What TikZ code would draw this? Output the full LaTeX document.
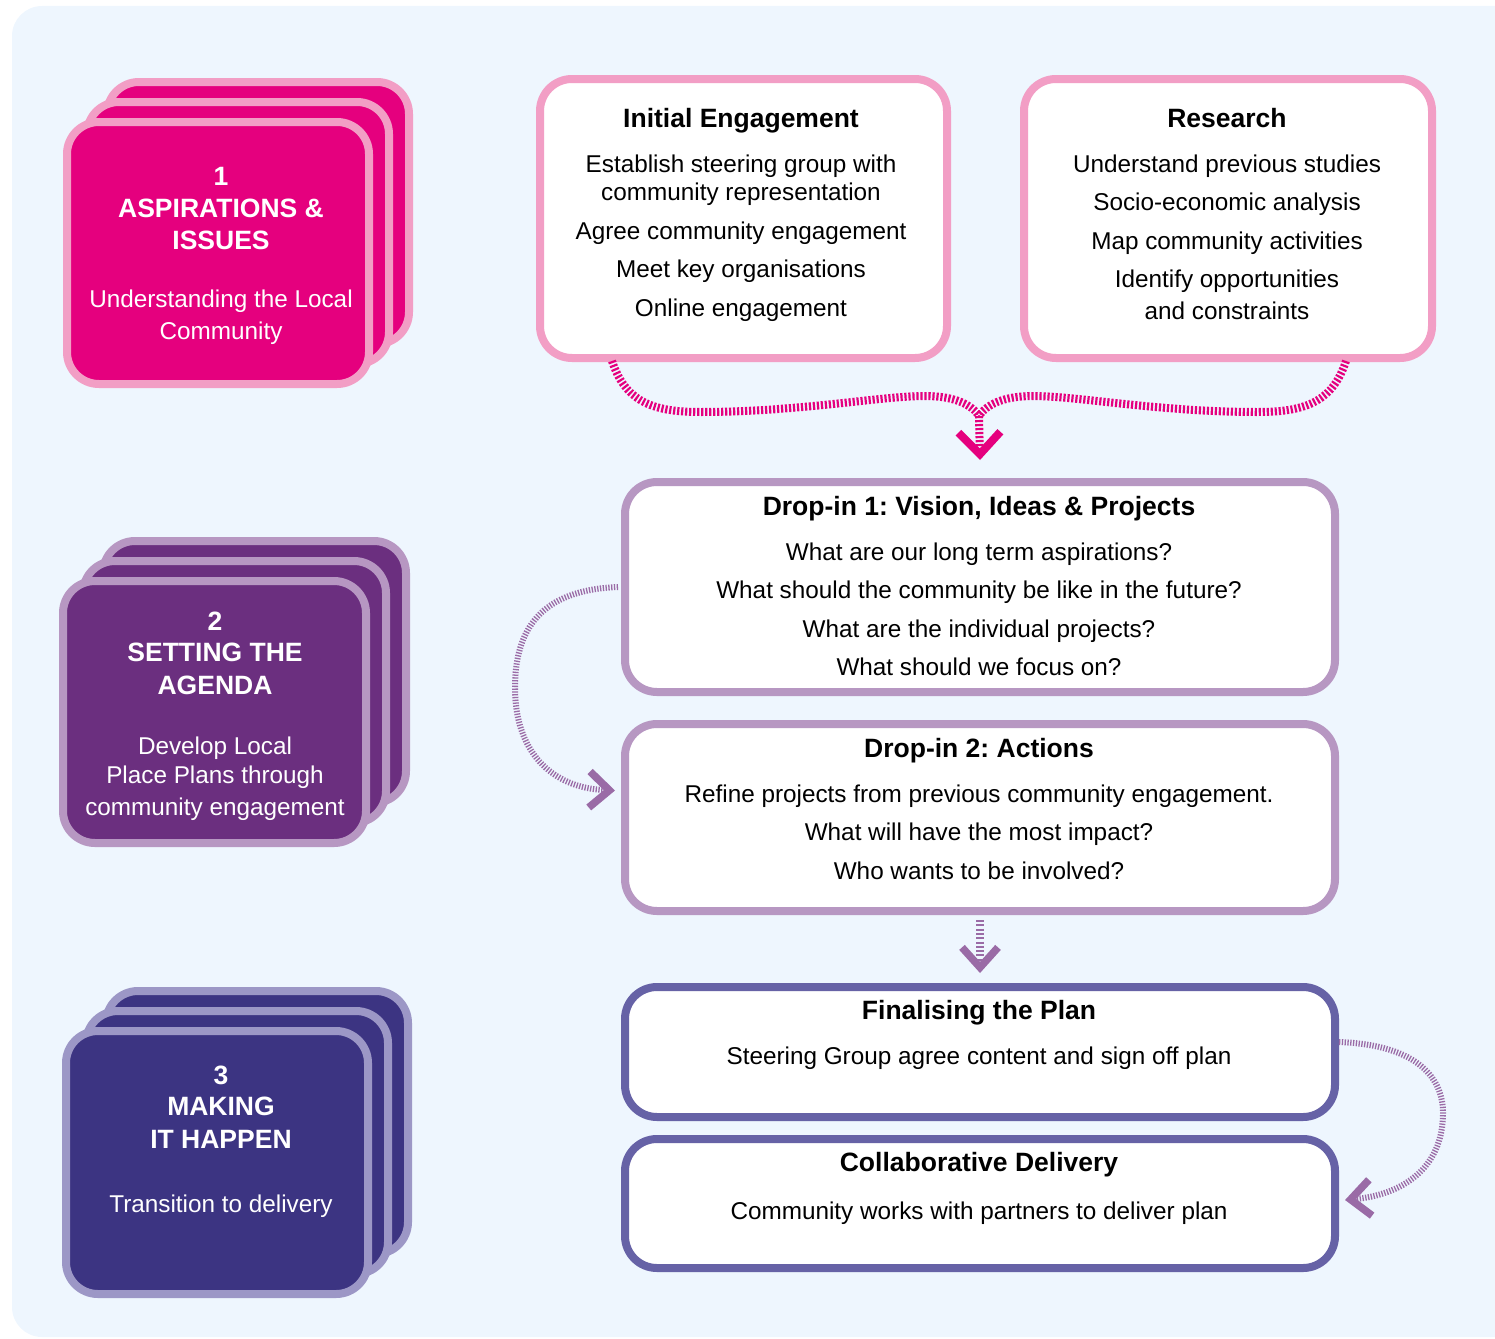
\documentclass[tikz,border=0pt]{standalone}
\usepackage{fontspec}
\setmainfont{Liberation Sans}
\frenchspacing
\usetikzlibrary{arrows.meta,calc}
\definecolor{panel}{HTML}{EEF6FE}
\definecolor{mag}{HTML}{E5007E}
\definecolor{pinkb}{HTML}{F29EC5}
\definecolor{purp}{HTML}{6B2F7F}
\definecolor{lavb}{HTML}{B797C2}
\definecolor{navy}{HTML}{3C3482}
\definecolor{navyb}{HTML}{9C97C6}
\definecolor{slateb}{HTML}{6662A6}
\definecolor{connp}{HTML}{9A6BA6}
\begin{document}
\begin{tikzpicture}[x=1pt,y=-1pt,
  card/.style={draw, line width=8pt, rounded corners=32pt, minimum width=302pt, minimum height=262pt, inner sep=0pt},
  wbox/.style={draw, fill=white, line width=8pt, rounded corners=32pt, inner sep=0pt},
  rt/.style={anchor=base, font=\fontsize{24.3}{28}\selectfont, inner sep=0pt},
  bt/.style={anchor=base, font=\fontsize{26.5}{30}\selectfont\bfseries, inner sep=0pt},
  wt/.style={text=white},
  magconn/.style={draw=mag, line width=8pt, dash pattern=on 2.2pt off 1.8pt},
  purpconn/.style={draw=connp, line width=6pt, dash pattern=on 1.3pt off 1.5pt},
  chevm/.style={-{Straight Barb[length=22pt,width=42pt,line width=8pt]}},
  chevp/.style={-{Straight Barb[length=20pt,width=36pt,line width=7.5pt]}}
]
\useasboundingbox (0,0) rectangle (1495,1338);
\fill[panel, rounded corners=30pt] (12,6) rectangle (1530,1337);

% ---- stack 1
\node[card, draw=pinkb, fill=mag] (s1c) at (258,213) {};
\node[card, draw=pinkb, fill=mag] (s1b) at (238,233) {};
\node[card, draw=pinkb, fill=mag] (s1) at (218,253) {};
\node[bt, wt] (s1n) at (221,185) {1};
\node[bt, wt] (s1t1) at (221,217) {ASPIRATIONS \&};
\node[bt, wt] (s1t2) at (221,249) {ISSUES};
\node[rt, wt] (s1d1) at (221,307) {Understanding the Local};
\node[rt, wt] (s1d2) at (221,339) {Community};

% ---- stack 2
\node[card, draw=lavb, fill=purp, minimum width=303pt] (s2c) at (254.5,672) {};
\node[card, draw=lavb, fill=purp, minimum width=303pt] (s2b) at (234.5,692) {};
\node[card, draw=lavb, fill=purp, minimum width=303pt] (s2) at (214.5,712) {};
\node[bt, wt] (s2n) at (215,630) {2};
\node[bt, wt] (s2t1) at (215,661) {SETTING THE};
\node[bt, wt] (s2t2) at (215,694) {AGENDA};
\node[rt, wt] (s2d1) at (215,754) {Develop Local};
\node[rt, wt] (s2d2) at (215,783) {Place Plans through};
\node[rt, wt] (s2d3) at (215,815) {community engagement};

% ---- stack 3
\node[card, draw=navyb, fill=navy, minimum height=263pt] (s3c) at (257,1122.5) {};
\node[card, draw=navyb, fill=navy, minimum height=263pt] (s3b) at (237,1142.5) {};
\node[card, draw=navyb, fill=navy, minimum height=263pt] (s3) at (217,1162.5) {};
\node[bt, wt] (s3n) at (221,1084) {3};
\node[bt, wt] (s3t1) at (221,1115) {MAKING};
\node[bt, wt] (s3t2) at (221,1148) {IT HAPPEN};
\node[rt, wt] (s3d1) at (221,1212) {Transition to delivery};

% ---- white boxes
\node[wbox, draw=pinkb, minimum width=407pt, minimum height=279pt] (ie) at (743.5,218.5) {};
\node[bt] (iet) at (741,127) {Initial Engagement};
\node[rt] (ie1) at (741,172) {Establish steering group with};
\node[rt] (ie2) at (741,200) {community representation};
\node[rt] (ie3) at (741,239) {Agree community engagement};
\node[rt] (ie4) at (741,277) {Meet key organisations};
\node[rt] (ie5) at (741,316) {Online engagement};

\node[wbox, draw=pinkb, minimum width=408pt, minimum height=279pt] (rs) at (1228,218.5) {};
\node[bt] (rst) at (1227,127) {Research};
\node[rt] (rs1) at (1227,172) {Understand previous studies};
\node[rt] (rs2) at (1227,210) {Socio-economic analysis};
\node[rt] (rs3) at (1227,249) {Map community activities};
\node[rt] (rs4) at (1227,287) {Identify opportunities};
\node[rt] (rs5) at (1227,319) {and constraints};

\node[wbox, draw=lavb, minimum width=710pt, minimum height=210pt] (d1) at (980,587) {};
\node[bt] (d1t) at (979,515) {Drop-in 1: Vision, Ideas \& Projects};
\node[rt] (d11) at (979,560) {What are our long term aspirations?};
\node[rt] (d12) at (979,598) {What should the community be like in the future?};
\node[rt] (d13) at (979,637) {What are the individual projects?};
\node[rt] (d14) at (979,675) {What should we focus on?};

\node[wbox, draw=lavb, minimum width=710pt, minimum height=187pt] (d2) at (980,817.5) {};
\node[bt] (d2t) at (979,757) {Drop-in 2: Actions};
\node[rt] (d21) at (979,802) {Refine projects from previous community engagement.};
\node[rt] (d22) at (979,840) {What will have the most impact?};
\node[rt] (d23) at (979,879) {Who wants to be involved?};

\node[wbox, draw=slateb, minimum width=710pt, minimum height=130pt] (fp) at (980,1052) {};
\node[bt] (fpt) at (979,1019) {Finalising the Plan};
\node[rt] (fp1) at (979,1064) {Steering Group agree content and sign off plan};

\node[wbox, draw=slateb, minimum width=710pt, minimum height=129pt] (cd) at (980,1203.5) {};
\node[bt] (cdt) at (979,1171) {Collaborative Delivery};
\node[rt] (cd1) at (979,1219) {Community works with partners to deliver plan};

% ---- connectors
\coordinate (m) at (979,416);
\draw[magconn] ([xshift=76pt,yshift=1pt]ie.south west) .. controls (625,400) and (650,412) .. (700,412)
   .. controls (800,412) and (880,396) .. (925,396) .. controls (955,396) and (972,405) .. (m);
\draw[magconn] ([xshift=-90pt,yshift=1pt]rs.south east) .. controls (1333,400) and (1308,412) .. (1258,412)
   .. controls (1158,412) and (1078,396) .. (1033,396) .. controls (1003,396) and (986,405) .. (m);
\draw[magconn, chevm] (m) -- ([yshift=18pt]d1.north);

\draw[purpconn, chevp] ([xshift=-3pt]d1.west) .. controls (540,590) and (515,630) .. (515,688)
   .. controls (515,750) and (550,788) .. ([xshift=-6pt,yshift=27pt]d2.west);
\draw[purpconn, line width=8pt, dash pattern=on 2pt off 2.3pt, chevp] ([yshift=-5pt]d2.south) -- ([yshift=10pt]fp.north);
\draw[purpconn, chevp] ([xshift=0pt,yshift=10pt]fp.east) .. controls (1420,1045) and (1443,1080) .. (1443,1113)
   .. controls (1443,1170) and (1400,1195) .. ([xshift=6pt,yshift=3.5pt]cd.east);
\end{tikzpicture}
\end{document}
